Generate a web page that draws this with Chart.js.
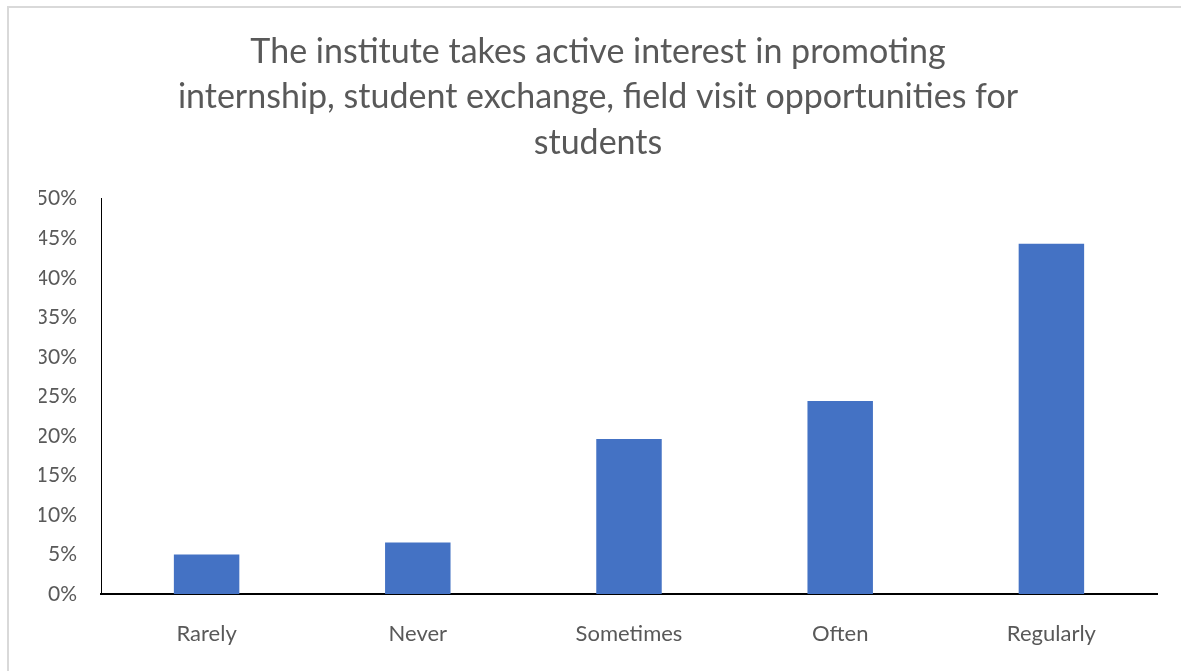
<!DOCTYPE html>
<html>
<head>
<meta charset="utf-8">
<script src="https://cdn.jsdelivr.net/npm/chart.js@4"></script>
<style>
  html, body { margin: 0; padding: 0; background: #fff; }
  #wrap { position: relative; width: 1181px; height: 671px; overflow: hidden; }
  #frame { position: absolute; left: 7px; top: 6px; width: 1200px; height: 700px;
           border-left: 2px solid #d9d9d9; border-top: 2px solid #d9d9d9; box-sizing: border-box; }
  canvas { position: absolute; left: 0; top: 0; }
</style>
</head>
<body>
<div id="wrap">
  <div id="frame"></div>
  <canvas id="c" width="1181" height="671"></canvas>
</div>
<script>
const titleLines = [
  "The institute takes active interest in promoting",
  "internship, student exchange, field visit opportunities for",
  "students"
];
const categories = ["Rarely", "Never", "Sometimes", "Often", "Regularly"];
const values = [0.050, 0.065, 0.196, 0.244, 0.443];
const yMin = 0;
const yMax = 0.5;
const yStep = 0.05;

const FONT = "Lato, 'Open Sans', sans-serif";
const TXT = "#595959";
const PAD_L = 39;

new Chart(document.getElementById("c"), {
  type: "bar",
  data: {
    labels: categories,
    datasets: [{
      data: values,
      backgroundColor: "#4472C4",
      borderWidth: 0,
      categoryPercentage: 1.0,
      barPercentage: 0.31
    }]
  },
  options: {
    responsive: false,
    animation: false,
    devicePixelRatio: 1,
    layout: { padding: { left: PAD_L, right: 24, top: 0, bottom: 0 } },
    plugins: {
      legend: { display: false },
      tooltip: { enabled: false },
      title: {
        display: true,
        text: titleLines,
        color: TXT,
        font: { family: FONT, size: 34, weight: "normal", lineHeight: 1.34 },
        padding: { top: 29, bottom: 33 }
      }
    },
    scales: {
      x: {
        grid: { display: false, drawTicks: false },
        border: { display: true, color: "#000", width: 2 },
        ticks: { color: TXT, font: { family: FONT, size: 22 }, padding: 27 },
        afterFit: s => { s.height = 671 - 594; }
      },
      y: {
        min: yMin, max: yMax,
        grid: { display: false, drawTicks: false },
        border: { display: true, color: "#000", width: 1 },
        ticks: {
          stepSize: yStep,
          color: TXT,
          font: { family: FONT, size: 21 },
          padding: 24,
          callback: v => Math.round(v * 100) + "%"
        },
        afterFit: s => { s.width = 101 - PAD_L; }
      }
    }
  }
});
</script>
</body>
</html>
